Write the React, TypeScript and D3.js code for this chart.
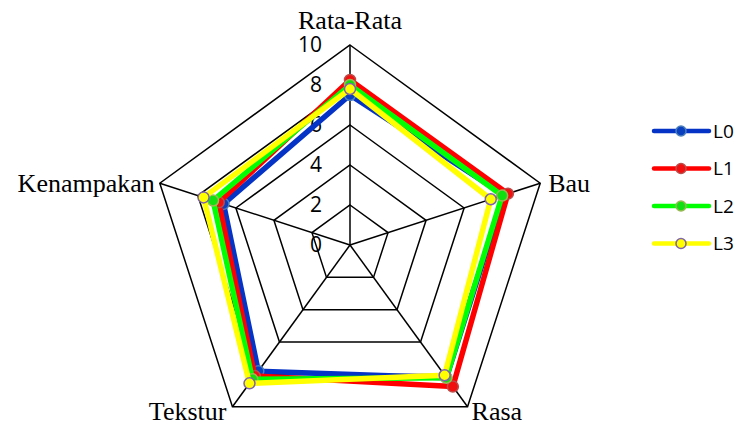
import React from 'react';
import * as d3 from 'd3';

const axes = ['Rata-Rata', 'Bau', 'Rasa', 'Tekstur', 'Kenampakan'];
const ticks = [0, 2, 4, 6, 8, 10];

const seriesNames = ['L0', 'L1', 'L2', 'L3'];
const L0 = [7.5, 8.1, 8.2, 7.8, 6.65];
const L1 = [8.25, 8.3, 8.75, 8.1, 6.9];
const L2 = [8.0, 8.0, 8.2, 8.3, 7.2];
const L3 = [7.8, 7.4, 8.05, 8.55, 7.7];
const seriesValues = [L0, L1, L2, L3];

const lineColors = ['#0433c6', '#ff0000', '#00ff00', '#ffff00'];
const markerFill = ['#0a3fbf', '#f01010', '#10e010', '#ffff00'];
const markerStroke = ['#4a7ebb', '#be4b48', '#98b954', '#7f64a8'];

const W = 737, H = 425;
const cx = 350, cy = 245, R = 200;

export default function App() {
  const r = d3.scaleLinear().domain([0, 10]).range([0, R]);
  const angle = (i: number) => (i * 2 * Math.PI) / axes.length;
  const pt = (i: number, v: number): [number, number] => [
    cx + r(v) * Math.sin(angle(i)),
    cy - r(v) * Math.cos(angle(i)),
  ];
  const closed = d3.line<[number, number]>().curve(d3.curveLinearClosed);

  // label offsets from each axis end
  const labelPos = [
    { dx: 0, dy: -16, anchor: 'middle' },
    { dx: 8, dy: 9, anchor: 'start' },
    { dx: 4, dy: 13, anchor: 'start' },
    { dx: -6, dy: 13, anchor: 'end' },
    { dx: -5, dy: 9, anchor: 'end' },
  ];

  return (
    <svg width={W} height={H} style={{ position: 'absolute', left: 0, top: 0, background: '#fff' }}>
      {/* grid rings */}
      {ticks.slice(1).map(t => (
        <path key={t} d={closed(axes.map((_, i) => pt(i, t))) || ''} fill="none" stroke="#000" strokeWidth={1.5} />
      ))}
      {axes.map((_, i) => {
        const [x, y] = pt(i, 10);
        return <line key={i} x1={cx} y1={cy} x2={x} y2={y} stroke="#000" strokeWidth={1.5} />;
      })}
      {/* tick labels */}
      {ticks.map(t => (
        <text key={t} x={322} y={cy - r(t)} dy="0.35em" textAnchor="end"
          fontFamily="'Open Sans', sans-serif" fontSize={21} fill="#000">{t}</text>
      ))}
      {/* axis labels */}
      {axes.map((a, i) => {
        const [x, y] = pt(i, 10);
        const p = labelPos[i];
        return (
          <text key={a} x={x + p.dx} y={y + p.dy} textAnchor={p.anchor as any}
            fontFamily="'Liberation Serif', serif" fontSize={26} fill="#000">{a}</text>
        );
      })}
      {/* series */}
      {seriesValues.map((vals, s) => (
        <g key={s}>
          <path d={closed(vals.map((v, i) => pt(i, v))) || ''} fill="none"
            stroke={lineColors[s]} strokeWidth={5.5} strokeLinejoin="round" />
          {vals.map((v, i) => {
            const [x, y] = pt(i, v);
            return <circle key={i} cx={x} cy={y} r={5.5} fill={markerFill[s]} stroke={markerStroke[s]} strokeWidth={1.5} />;
          })}
        </g>
      ))}
      {/* legend */}
      {seriesNames.map((n, s) => {
        const y = 131 + s * 37.5;
        return (
          <g key={n}>
            <line x1={654} x2={709} y1={y} y2={y} stroke={lineColors[s]} strokeWidth={4.5} strokeLinecap="round" />
            <circle cx={681} cy={y} r={5} fill={markerFill[s]} stroke={markerStroke[s]} strokeWidth={1.5} />
            <text x={713} y={y} dy="0.35em" fontFamily="'Open Sans', sans-serif" fontSize={19} fill="#000">{n}</text>
          </g>
        );
      })}
    </svg>
  );
}
